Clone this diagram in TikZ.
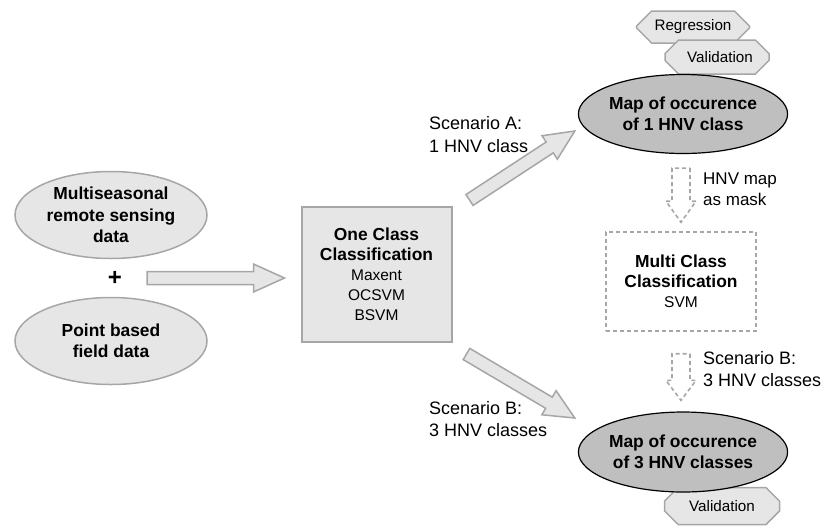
\documentclass[tikz,border=0pt]{standalone}
\usepackage{fontspec}
\setmainfont{Liberation Sans}
\usetikzlibrary{calc, shapes.geometric, shapes.misc}

\definecolor{lightgr}{RGB}{230,230,230}
\definecolor{darkgr}{RGB}{191,191,191}
\definecolor{edgegr}{RGB}{166,166,166}

% bold title line inside a box
\newcommand{\boxtitle}[1]{{\fontsize{17.4}{22}\selectfont\bfseries #1}}

% block arrow: style, from, to, shaft half width, head half width, head length
\newcommand{\fatarrow}[6]{%
  \path ($(#3)!#6!(#2)$) coordinate (fa-h);
  \draw[#1] ($(#2)!#4!90:(#3)$) -- ($(fa-h)!#4!90:(#3)$)
    -- ($(fa-h)!#5!90:(#3)$) -- (#3) -- ($(fa-h)!#5!-90:(#3)$)
    -- ($(fa-h)!#4!-90:(#3)$) -- ($(#2)!#4!-90:(#3)$) -- cycle;}

\begin{document}
\begin{tikzpicture}[x=1pt, y=-1pt,
  bigbold/.style={font=\fontsize{17.4}{21.5}\selectfont\bfseries},
  src/.style={ellipse, bigbold, align=center, inner sep=0pt,
    fill=lightgr, draw=edgegr, line width=1.5pt,
    minimum width=192pt, minimum height=87pt},
  mapnode/.style={ellipse, bigbold, align=center, inner sep=0pt,
    fill=darkgr, draw=black, line width=1.2pt,
    minimum width=192pt, minimum height=79pt},
  method/.style={rectangle, align=center, inner sep=0pt,
    font=\fontsize{15.5}{20}\selectfont,
    minimum width=150pt},
  tag/.style={chamfered rectangle, chamfered rectangle xsep=8pt,
    chamfered rectangle ysep=8pt, inner sep=0pt,
    fill=lightgr, draw=edgegr, line width=1.5pt,
    font=\fontsize{15.2}{18}\selectfont},
  label/.style={anchor=west, align=left, inner sep=0pt,
    font=\fontsize{18}{22.5}\selectfont},
  solidarrow/.style={fill=lightgr, draw=edgegr, line width=1.5pt,
    line join=miter},
  dasharrow/.style={draw=edgegr, line width=1.6pt, dash pattern=on 4pt off 3pt}]
\useasboundingbox (0,0) rectangle (821,528);

% inputs
\node[src] (msrs) at (111,215) {Multiseasonal\\remote sensing\\data};
\node[font=\fontsize{24}{24}\selectfont\bfseries, inner sep=0pt] (plus) at (115,278) {+};
\node[src] (field) at (111,341) {Point based\\field data};

% one class box
\node[method, fill=lightgr, draw=edgegr, line width=2pt,
  minimum height=135pt] (occ) at (376.5,274.5)
  {\boxtitle{One Class}\\\boxtitle{Classification}\\Maxent\\OCSVM\\BSVM};

% tags behind the maps
\node[tag, minimum width=113pt, minimum height=32pt] (regr) at (693,27) {Regression};
\node[tag, minimum width=104pt, minimum height=34pt] (valid1) at (717,57) {\hspace*{6pt}Validation};
\node[tag, minimum width=115pt, minimum height=37pt] (valid3) at (722,506) {Validation};

% outputs
\node[mapnode] (map1) at (683,114) {Map of occurence\\of 1 HNV class};
\node[mapnode, minimum height=80pt] (map3) at (683,452) {Map of occurence\\of 3 HNV classes};

% multi class box
\node[method, draw=edgegr, line width=1.5pt, dash pattern=on 4pt off 3pt,
  minimum height=99pt] (mcc) at (681,281.5)
  {\boxtitle{Multi Class}\\\boxtitle{Classification}\\SVM};

% arrow ends
\coordinate (inA) at ($(plus.east)+(25,0)$);
\coordinate (inB) at ($(occ.west)+(-16,3.5)$);
\coordinate (scA1) at ($(occ.north east)+(17,-6)$);
\coordinate (scA2) at ($(map1.west)+(-3,17)$);
\coordinate (scB1) at ($(occ.south east)+(14,11)$);
\coordinate (scB2) at ($(map3.west)+(-3,-34)$);
\coordinate (mask1) at ($(map1.south)+(-2,14)$);
\coordinate (mask2) at ($(mcc.north)+(0,-9)$);
\coordinate (mcc1) at ($(mcc.south)+(0,22)$);
\coordinate (mcc2) at ($(map3.north)+(-2,-11)$);

\fatarrow{solidarrow}{inA}{inB}{6.5pt}{14pt}{31pt}
\fatarrow{solidarrow}{scA1}{scA2}{6.5pt}{14pt}{30pt}
\fatarrow{solidarrow}{scB1}{scB2}{6.5pt}{14pt}{30pt}
\fatarrow{dasharrow}{mask1}{mask2}{9pt}{15pt}{21pt}
\fatarrow{dasharrow}{mcc1}{mcc2}{9pt}{15pt}{20pt}

% labels
\node[label] (labA) at (429,134.5) {Scenario A:\\1 HNV class};
\node[label] (labB) at (429,419) {Scenario B:\\3 HNV classes};
\node[label, font=\fontsize{17}{20.5}\selectfont] (labmask) at (703,189) {HNV map\\as mask};
\node[label] (labB2) at (703,369) {Scenario B:\\3 HNV classes};
\end{tikzpicture}
\end{document}
